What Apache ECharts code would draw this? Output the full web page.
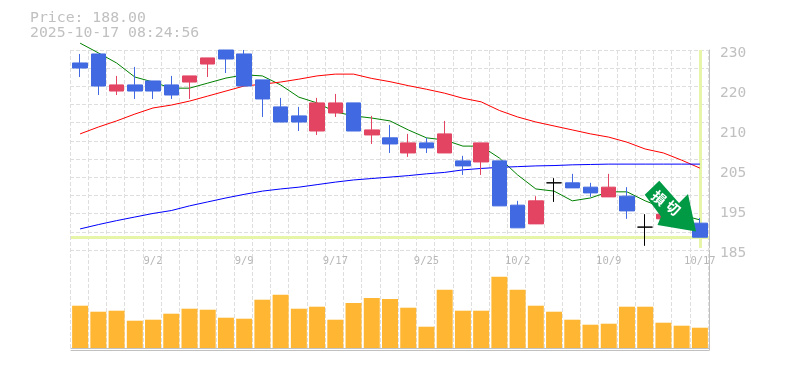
<!DOCTYPE html>
<html><head><meta charset="utf-8">
<style>html,body{margin:0;padding:0;background:#fff}#c{width:785px;height:370px}</style>
<script src="https://cdn.jsdelivr.net/npm/echarts@6/dist/echarts.min.js"></script>
</head><body><div id="c"></div>
<script>
const dates=['8/27','8/28','8/29','9/1','9/2','9/3','9/4','9/5','9/8','9/9','9/10','9/11','9/12','9/16','9/17','9/18','9/19','9/22','9/24','9/25','9/26','9/29','9/30','10/1','10/2','10/3','10/6','10/7','10/8','10/9','10/10','10/14','10/15','10/16','10/17'];
const tickDates=['9/2','9/9','9/17','9/25','10/2','10/9','10/17'];
const priceLabels=['230','220','210','205','195','185'];
// open, close, low, high
const candles=[[236.4,235,232.5,238.9],[238.9,230,227.5,238.9],[228.6,230.3,227.5,232.8],[230.3,228.6,226.4,235.3],[231.4,228.6,226.4,231.4],[230.3,227.5,226.4,232.8],[231.1,232.8,226.4,232.8],[236.1,237.8,232.5,237.8],[240,237.5,233.6,240],[238.9,230,230,240],[231.7,226.4,221.4,231.7],[224.2,220,220,226.7],[221.7,220,217.5,224.2],[217.5,225.3,216.4,226.7],[222.5,225.3,221.4,227.8],[225.3,217.5,217.5,225.3],[216.4,217.8,213.9,221.7],[215.6,213.9,211.4,219.2],[211.4,214.2,210.3,216.7],[214.2,212.8,211.4,215.6],[211.4,216.7,211.4,220.3],[209.2,207.8,205.3,210.6],[208.9,214.2,205.3,214.2],[209.2,196.7,196.7,209.2],[196.9,190.6,190.6,198.1],[191.7,198.1,191.7,199.4],[203.1,203.1,197.8,204.4],[203.1,201.7,201.7,205.6],[201.9,200.3,199.2,203.1],[199.2,201.9,199.2,205.6],[199.4,195.3,193.1,201.9],[190.8,190.8,185.6,194.4],[193.1,194.4,193.1,194.4],[196.5,193,192,197],[191.9,188,188,193.3]];
const ma5=[241.9,239.2,236.4,232.5,231.1,229.4,229.4,230.8,232.2,233.1,232.8,230.3,226.9,225.3,222.8,221.7,221.1,220.3,217.8,215.6,215,213.3,213.3,210,205.3,201.4,200.8,198.1,198.9,200.6,200.6,198.1,196.1,194.2,192.8];
const ma25=[216.7,218.6,220.3,222.2,223.9,224.7,225.8,227.2,228.6,230,230.5,231.1,231.9,232.8,233.3,233.3,232.1,231.2,230.1,229.1,228,226.6,225.6,223.2,221.4,220,218.9,217.8,216.7,215.8,214.4,212.5,211.4,209.4,207.2];
const ma75=[190.3,191.5,192.6,193.6,194.6,195.4,196.7,197.8,198.9,199.9,200.8,201.4,201.9,202.6,203.3,203.9,204.3,204.7,205.1,205.6,206,206.7,207.1,207.4,207.6,207.8,207.9,208.1,208.2,208.3,208.3,208.3,208.3,208.3,208.3];
const volume=[42.3,36.3,37.3,27.3,28.3,34.3,39.3,38.3,30.3,29.3,48.3,53.3,39.3,41.3,28.3,45,50,49,40.3,21.3,58.3,37.3,37.3,71.3,58.3,42.3,36.3,28.3,23.3,24.3,41.3,41.3,25.3,22.3,20.3];
const lastClose=188;
const gray='#c0c0c0', gridC='#dedede', mono='"DejaVu Sans Mono","Liberation Mono",monospace';
const vGrid={show:true,interval:0,lineStyle:{color:gridC,width:1,type:[4,2]}};
const off={show:false};
const lineS=(name,data,color)=>({name,type:'line',data,xAxisIndex:0,yAxisIndex:0,symbol:'none',clip:false,z:3,
  lineStyle:{color,width:1},itemStyle:{color}});
const chart=echarts.init(document.getElementById('c'),null,{renderer:'canvas'});
chart.setOption({
 animation:false,backgroundColor:'#fff',
 title:{text:'Price: 188.00\n2025-10-17 08:24:56',left:30,top:11,padding:0,
   textStyle:{fontFamily:mono,fontSize:14.8,fontWeight:'normal',color:gray,lineHeight:15}},
 grid:[
  {left:71,width:638,top:50,height:198},
  {left:71,width:638,top:250,height:100},
  {left:709,width:1,top:53,height:200},
  {left:70,width:638,top:50,height:300},
  {left:70,width:639,top:50,height:200}
 ],
 xAxis:[
  {gridIndex:0,type:'category',data:dates,axisLine:off,axisTick:off,axisLabel:off,splitLine:off},
  {gridIndex:1,type:'category',data:dates,position:'top',axisLine:{show:true,lineStyle:{color:gray,width:1}},axisTick:off,splitLine:off,
   axisLabel:{show:true,inside:true,margin:6,color:'#b8b8b8',fontFamily:mono,fontSize:10.5,hideOverlap:false,
     interval:(i,v)=>tickDates.includes(v)}},
  {gridIndex:1,type:'category',data:dates,position:'bottom',axisLine:{show:true,lineStyle:{color:gray,width:1}},axisTick:off,axisLabel:off,splitLine:off},
  {gridIndex:2,type:'value',show:false},
  {gridIndex:3,type:'category',data:dates,axisLine:off,axisTick:off,axisLabel:off,splitLine:vGrid,z:0},
  {gridIndex:4,type:'value',show:false,min:0,max:1}
 ],
 yAxis:[
  {gridIndex:0,type:'value',min:185,max:240,interval:5,position:'right',axisLine:{show:true,onZero:false,lineStyle:{color:gray,width:1}},axisTick:off,axisLabel:off,splitLine:off},
  {gridIndex:1,type:'value',min:-2,max:98,position:'right',axisLine:{show:true,onZero:false,lineStyle:{color:gray,width:1}},axisTick:off,axisLabel:off,splitLine:off},
  {gridIndex:2,type:'category',data:priceLabels,inverse:true,boundaryGap:false,position:'right',axisLine:off,axisTick:off,splitLine:off,
   axisLabel:{show:true,interval:0,margin:10,color:gray,fontFamily:mono,fontSize:14.5}},
  {gridIndex:3,type:'value',show:false,min:0,max:1},
  {gridIndex:4,type:'value',min:0,max:55,interval:5,axisLine:off,axisTick:off,axisLabel:off,z:0,
   splitLine:{show:true,lineStyle:{color:gridC,width:1,type:[4,2]}}}
 ],
 series:[
  {type:'line',name:'guide',data:[],xAxisIndex:0,yAxisIndex:0,z:1,silent:true,
   markLine:{silent:true,z:1,symbol:'none',label:{show:false},animation:false,
     lineStyle:{color:'#e6f5a8',width:3,type:'solid'},
     data:[{yAxis:lastClose},{xAxis:dates[dates.length-1]}]}},
  lineS('MA5',ma5,'#008000'),
  lineS('MA25',ma25,'#ff0000'),
  lineS('MA75',ma75,'#0000ff'),
  {type:'candlestick',name:'price',data:candles,xAxisIndex:0,yAxisIndex:0,barWidth:15,z:4,
   itemStyle:{color:'#e24462',color0:'#4169e1',borderColor:'#e24462',borderColor0:'#4169e1',borderColorDoji:'#000',borderWidth:1}},
  {type:'bar',name:'volume',data:volume,xAxisIndex:1,yAxisIndex:1,barWidth:16,itemStyle:{color:'#ffb733'},z:2}
 ],
 graphic:[
  {type:'polygon',z:100,shape:{points:[[659.3,180.7],[644.7,194.7],[661,216.5],[657.5,225],[696,231.5],[688,194],[679,203]]},style:{fill:'#009944'}},
  {type:'text',z:101,x:659,y:198,rotation:-Math.PI/4.5,style:{text:'損',fill:'#fff',font:'bold 14px "Noto Sans CJK JP"',align:'center',verticalAlign:'middle'}},
  {type:'text',z:101,x:673,y:208,rotation:-Math.PI/4.5,style:{text:'切',fill:'#fff',font:'bold 14px "Noto Sans CJK JP"',align:'center',verticalAlign:'middle'}}
 ]
});
</script></body></html>
